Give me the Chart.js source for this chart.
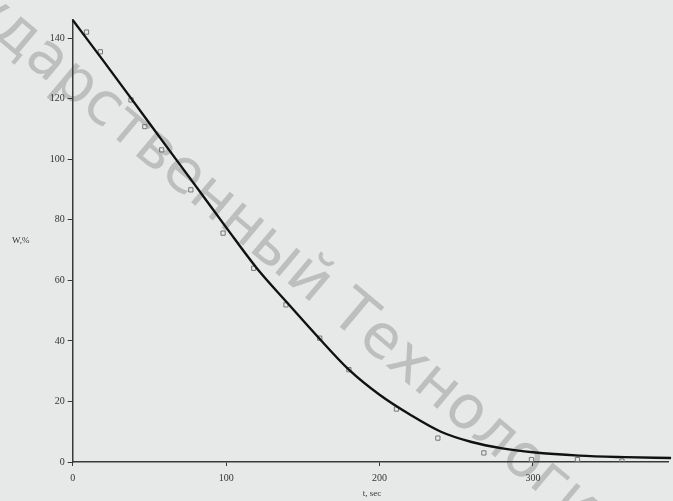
<!DOCTYPE html>
<html>
<head>
<meta charset="utf-8">
<script src="https://cdn.jsdelivr.net/npm/chart.js@4/dist/chart.umd.min.js"></script>
<style>
  html, body { margin: 0; padding: 0; background: #e7e9e8; }
  #wrap { width: 673px; height: 501px; }
</style>
</head>
<body>
<div id="wrap"><canvas id="myChart" width="673" height="501"></canvas></div>
<script>
// measured points (open squares)
const pointT = [9, 18, 38, 47, 58, 77, 98, 118, 139, 161, 180, 211, 238, 268, 299, 329, 358];
const pointW = [142, 135.5, 119.6, 110.8, 103.1, 89.9, 75.6, 64.0, 51.9, 40.9, 30.5, 17.5, 7.9, 3.0, 0.8, 0.8, 0.3];

// fitted curve
const curveT = [0, 20, 40, 60, 80, 100, 120, 140, 160, 180, 200, 220, 240, 260, 280, 300, 330, 360, 390];
const curveW = [146, 132.5, 118.8, 105, 91.3, 77.5, 64, 52.5, 41.2, 30.5, 22.2, 15.6, 10.0, 6.6, 4.5, 3.2, 2.1, 1.6, 1.3];

const xTicks = [0, 100, 200, 300];
const yTicks = [0, 20, 40, 60, 80, 100, 120, 140];

const xTitle = 't, sec';
const yTitle = 'W,%';

const tickFont = { family: 'Liberation Serif', size: 10 };
const axisColor = '#3a3a3a';

// diagonal watermark from the scanned page
const watermark = {
    id: 'watermark',
    beforeDraw(chart) {
        const ctx = chart.ctx;
        ctx.save();
        ctx.translate(338, 305);
        ctx.rotate(40 * Math.PI / 180);
        ctx.font = '60px "DejaVu Sans"';
        ctx.fillStyle = 'rgba(120,120,120,0.38)';
        ctx.textBaseline = 'middle';
        ctx.textAlign = 'right';
        ctx.fillText('государственный ', 0, 0);
        ctx.textAlign = 'left';
        ctx.fillText('Технологический', 0, 0);
        ctx.restore();
    }
};

// axis titles in their own places
const axisTitles = {
    id: 'axisTitles',
    afterDraw(chart) {
        const ctx = chart.ctx;
        ctx.save();
        ctx.fillStyle = '#333';
        ctx.font = '9px "Liberation Serif"';
        ctx.textAlign = 'left';
        ctx.textBaseline = 'middle';
        ctx.fillText(yTitle, 12, 241);
        ctx.textAlign = 'center';
        ctx.fillText(xTitle, chart.scales.x.getPixelForValue(195), 494);
        ctx.restore();
    }
};

const data = {
    datasets: [
        {
            label: 'curve',
            data: curveT.map((t, i) => ({ x: t, y: curveW[i] })),
            showLine: true,
            borderColor: '#111',
            borderWidth: 2.4,
            pointRadius: 0,
            cubicInterpolationMode: 'monotone',
            fill: false,
            clip: false
        },
        {
            label: 'points',
            data: pointT.map((t, i) => ({ x: t, y: pointW[i] })),
            showLine: false,
            pointStyle: 'rect',
            pointRadius: 3,
            pointBorderWidth: 1,
            pointBorderColor: '#777',
            pointBackgroundColor: 'rgba(0,0,0,0)'
        }
    ]
};

const config = {
    type: 'scatter',
    data: data,
    options: {
        animation: false,
        responsive: false,
        layout: { padding: { top: 20, right: 0, left: 0, bottom: 0 } },
        plugins: {
            legend: { display: false },
            tooltip: { enabled: false }
        },
        scales: {
            x: {
                type: 'linear',
                min: 0,
                max: 388,
                afterBuildTicks: s => { s.ticks = xTicks.map(v => ({ value: v })); },
                afterFit: s => { s.height = 39; },
                border: { display: true, color: axisColor, width: 1.5 },
                grid: { drawOnChartArea: false, drawTicks: true, tickLength: 4, color: axisColor },
                ticks: { font: tickFont, color: '#333', padding: 6, maxRotation: 0 }
            },
            y: {
                type: 'linear',
                min: 0,
                max: 146,
                afterBuildTicks: s => { s.ticks = yTicks.map(v => ({ value: v })); },
                afterFit: s => { s.width = 72.7; },
                border: { display: true, color: axisColor, width: 1.5 },
                grid: { drawOnChartArea: false, drawTicks: true, tickLength: 5, color: axisColor },
                ticks: { font: tickFont, color: '#333', padding: 3 }
            }
        }
    },
    plugins: [watermark, axisTitles]
};

const myChart = new Chart(document.getElementById('myChart'), config);
</script>
</body>
</html>
